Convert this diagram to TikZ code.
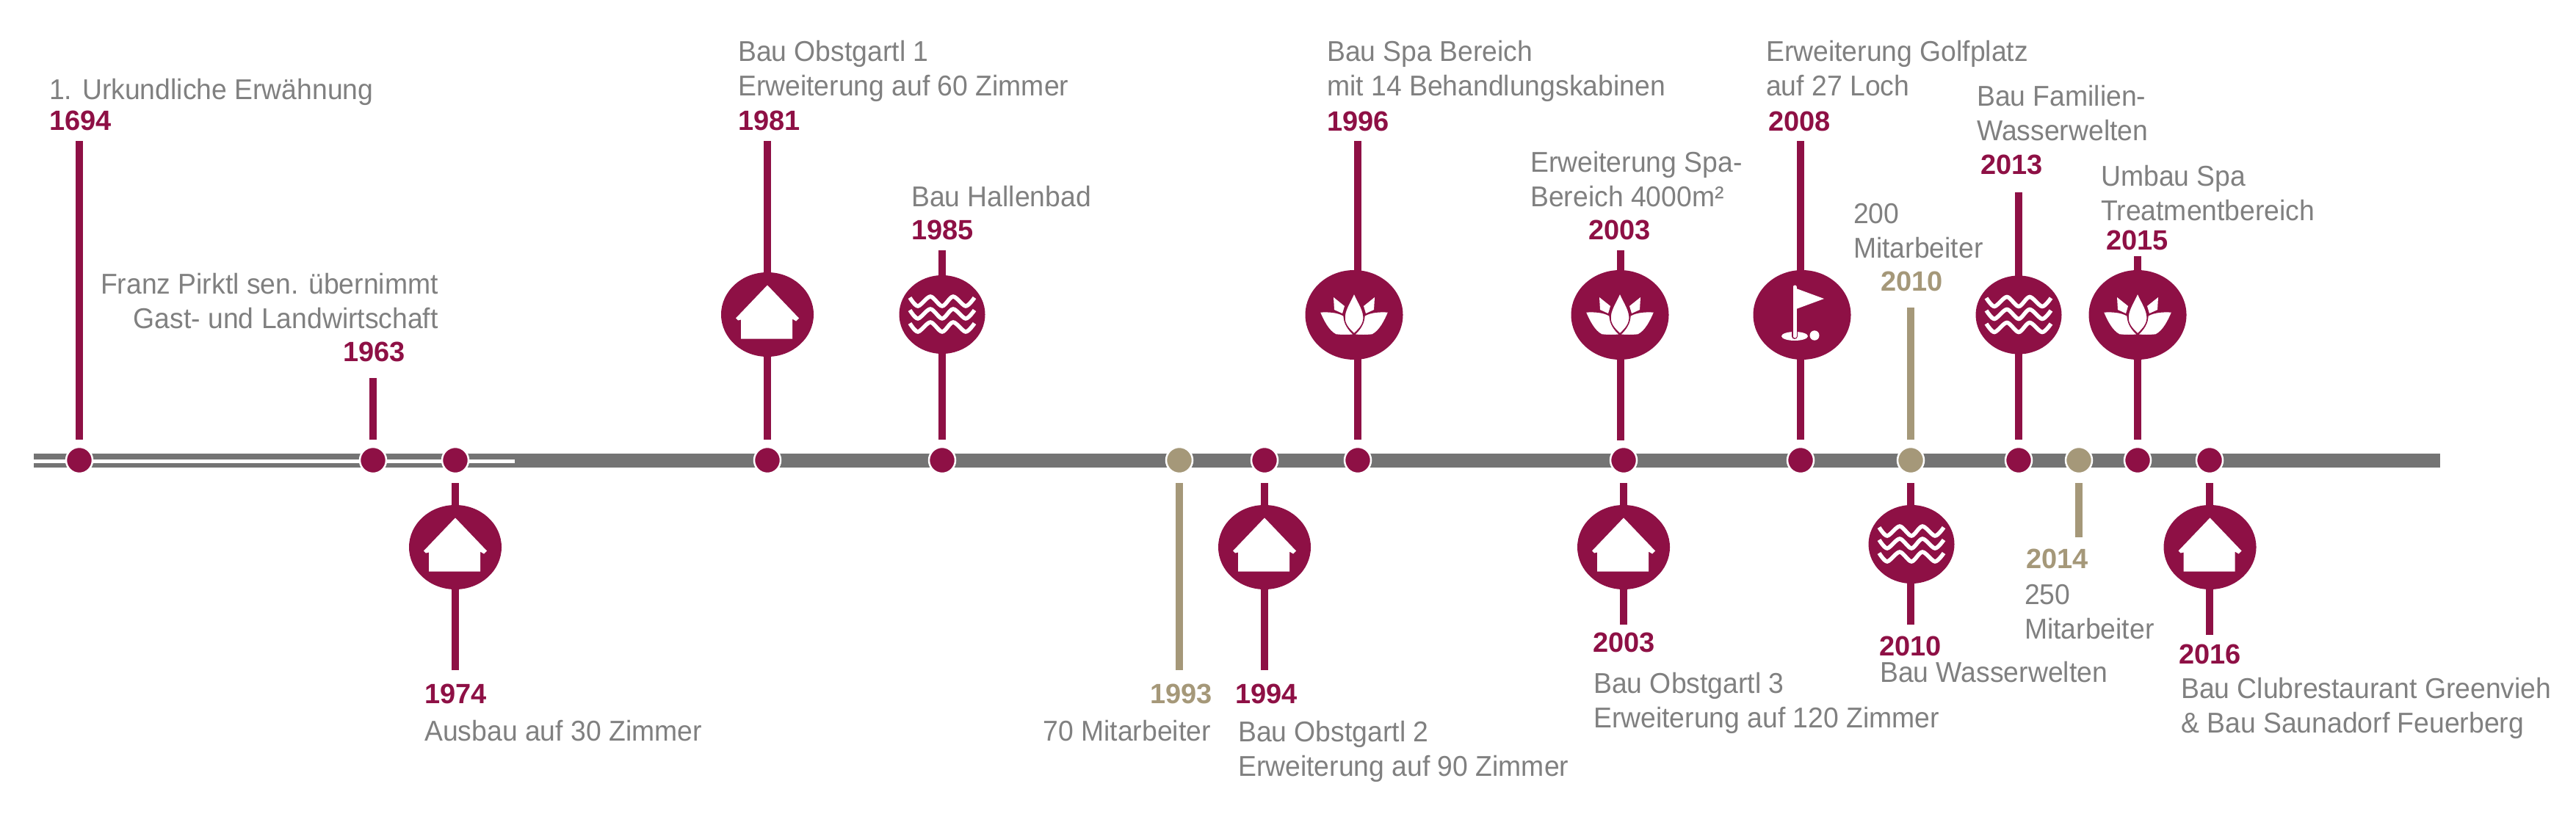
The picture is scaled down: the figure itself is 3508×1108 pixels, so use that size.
\documentclass[tikz,border=0pt]{standalone}
\usepackage{fontspec}
\setmainfont{Liberation Sans}[UprightFeatures={FakeStretch=0.957}]
\usepackage{xcolor}
\usetikzlibrary{shapes.geometric}
\definecolor{bargray}{HTML}{747474}
\definecolor{txtgray}{HTML}{808080}
\definecolor{wine}{HTML}{8E1045}
\definecolor{sand}{HTML}{A59879}
\tikzstyle{bar}=[line width=19pt,draw=bargray]
\tikzstyle{stripe}=[line width=5pt,draw=white]
\tikzstyle{dot}=[circle,fill=wine,draw=white,line width=2.5pt,inner sep=0,minimum size=36pt]
\tikzstyle{stem}=[line width=10pt,draw=wine,shorten >=9pt]
\tikzstyle{stemdn}=[stem,shorten >=12pt]
\tikzstyle{badge}=[ellipse,fill=wine,inner sep=0,outer sep=0]
\tikzstyle{big}=[badge,minimum width=133pt,minimum height=122pt]
\tikzstyle{mid}=[badge,minimum width=126pt,minimum height=115pt]
\tikzstyle{small}=[badge,minimum width=117pt,minimum height=107pt]
\tikzstyle{yr}=[anchor=base west,inner sep=0,text=wine,font=\fontsize{38}{46}\selectfont\bfseries]
\tikzstyle{lbl}=[anchor=base west,inner sep=0,text=txtgray,align=left,font=\fontsize{39}{47}\selectfont]
\tikzstyle{petal}=[fill=white,draw=wine,line width=1.5pt]
\tikzset{
  house/.pic={
    \fill[white] (0,-40) -- (43,5) -- (39,9) -- (34,6) -- (34,33) -- (-36,33) -- (-36,7) -- (-40,8) -- (-43,5) -- cycle;
  },
  waves/.pic={
    \draw[white,line width=5.5pt] plot[smooth] coordinates {(-44,-23) (-33,-11.5) (-16,-24.5) (0,-11.5) (15,-24.5) (32,-11.5) (44,-23)};
    \draw[white,line width=5.5pt] plot[smooth] coordinates {(-44,-6) (-33,5.5) (-16,-7.5) (0,5.5) (15,-7.5) (32,5.5) (44,-6)};
    \draw[white,line width=5.5pt] plot[smooth] coordinates {(-44,12) (-33,23.5) (-16,10.5) (0,23.5) (15,10.5) (32,23.5) (44,12)};
  },
  lotus/.pic={
    \fill[white] (-28,-24) -- (-13,-12) -- (-16,-2) -- (-27,-7) -- cycle;
    \fill[white] (28,-24) -- (13,-12) -- (16,-2) -- (27,-7) -- cycle;
    \path[petal] (-47,-4) .. controls (-35,-5) and (-22,-4) .. (-14,1) .. controls (-13,12) and (-8,20) .. (0,27) .. controls (-8,28) and (-16,28) .. (-25,27) .. controls (-35,22) and (-42,8) .. (-47,-4) -- cycle;
    \path[petal] (47,-4) .. controls (35,-5) and (22,-4) .. (14,1) .. controls (13,12) and (8,20) .. (0,27) .. controls (8,28) and (16,28) .. (25,27) .. controls (35,22) and (42,8) .. (47,-4) -- cycle;
    \path[petal] (0,-30) .. controls (-6,-16) and (-14,-6) .. (-13,6) .. controls (-12,15) and (-5,21) .. (0,26) .. controls (5,21) and (12,15) .. (13,6) .. controls (14,-6) and (6,-16) .. (0,-30) -- cycle;
  },
  flag/.pic={
    \fill[white] (-10,29) ellipse (18 and 6);
    \fill[white] (17,28) ellipse (6.5 and 6.7);
    \draw[wine,line width=8pt,line cap=round] (-10,10) -- (-10,29);
    \draw[white,line width=5pt,line cap=round] (-10,-38) -- (-10,29);
    \fill[white] (-8,-36) -- (30,-22) -- (-8,-8) -- cycle;
  },
}

\begin{document}
\begin{tikzpicture}[x=1pt,y=-1pt]
\useasboundingbox (0,0) rectangle (3508,1108);

% timeline
\coordinate (l0) at (46,627.5);
\coordinate (l1) at (3323,627.5);
\coordinate (l2) at (46,628);
\coordinate (l3) at (701,628);
\draw[bar] (l0) to (l1);
\draw[stripe] (l2) to (l3);

\node[dot] (d1694) at (108,627) {};
\node[dot] (d1963) at (508,627) {};
\node[dot] (d1974) at (620,627) {};
\node[dot] (d1981) at (1045,627) {};
\node[dot] (d1985) at (1283,627) {};
\node[dot,fill=sand] (d1993) at (1606,627) {};
\node[dot] (d1994) at (1722,627) {};
\node[dot] (d1996) at (1849,627) {};
\node[dot] (d2003) at (2211,627) {};
\node[dot] (d2008) at (2452,627) {};
\node[dot,fill=sand] (d2010) at (2602,627) {};
\node[dot] (d2013) at (2749,627) {};
\node[dot,fill=sand] (d2014) at (2831,627) {};
\node[dot] (d2015) at (2911,627) {};
\node[dot] (d2016) at (3009,627) {};

% stem ends
\coordinate (e1694) at (108,192);
\coordinate (e1963) at (508,515);
\coordinate (e1974) at (620,913);
\coordinate (e1981) at (1045,192);
\coordinate (e1985) at (1283,341);
\coordinate (e1993) at (1606,913);
\coordinate (e1994) at (1722,913);
\coordinate (e1996) at (1849,192);
\coordinate (e2003a) at (2207,341);
\coordinate (e2003b) at (2211,851);
\coordinate (e2008) at (2452,192);
\coordinate (e2010a) at (2602,419);
\coordinate (e2010b) at (2602,851);
\coordinate (e2013) at (2749,262);
\coordinate (e2014) at (2831,732);
\coordinate (e2015) at (2911,349);
\coordinate (e2016) at (3009,865);

\draw[stem] (e1694) to (d1694);
\draw[stem] (e1963) to (d1963);
\draw[stemdn] (e1974) to (d1974);
\draw[stem] (e1981) to (d1981);
\draw[stem] (e1985) to (d1985);
\draw[stemdn,draw=sand] (e1993) to (d1993);
\draw[stemdn] (e1994) to (d1994);
\draw[stem] (e1996) to (d1996);
\draw[stem,shorten >=27pt] (e2003a) to (e2003a |- d2003);
\draw[stemdn] (e2003b) to (d2003);
\draw[stem] (e2008) to (d2008);
\draw[stem,draw=sand] (e2010a) to (d2010);
\draw[stemdn] (e2010b) to (d2010);
\draw[stem] (e2013) to (d2013);
\draw[stemdn,draw=sand] (e2014) to (d2014);
\draw[stem] (e2015) to (d2015);
\draw[stemdn] (e2016) to (d2016);

% badges
\node[mid] (s1974) at (620,745.5) {};
\node[mid] (s1981) at (1045,428.5) {};
\node[small] (s1985) at (1283,428.5) {};
\node[mid] (s1994) at (1722,745.5) {};
\node[big] (s1996) at (1844,429) {};
\node[big] (s2003a) at (2206,429) {};
\node[mid] (s2003b) at (2211,745.5) {};
\node[big] (s2008) at (2454,429) {};
\node[small] (s2010) at (2603,741.5) {};
\node[small] (s2013) at (2749,429) {};
\node[big] (s2015) at (2911,429) {};
\node[mid] (s2016) at (3009.5,745.5) {};

\pic at (s1974) {house};
\pic at (s1981) {house};
\pic at (s1985) {waves};
\pic at (s1994) {house};
\pic at (s1996) {lotus};
\pic at (s2003a) {lotus};
\pic at (s2003b) {house};
\pic at (s2008) {flag};
\pic at (s2010) {waves};
\pic at (s2013) {waves};
\pic at (s2015) {lotus};
\pic at (s2016) {house};

% years
\node[yr] (y1694) at (67,177.5) {1694};
\node[yr] (y1963) at (467,492) {1963};
\node[yr] (y1974) at (578,958) {1974};
\node[yr] (y1981) at (1005,177.5) {1981};
\node[yr] (y1985) at (1241,326) {1985};
\node[yr,text=sand] (y1993) at (1566,958) {1993};
\node[yr] (y1994) at (1682,958) {1994};
\node[yr] (y1996) at (1807,178) {1996};
\node[yr] (y2003a) at (2163,326) {2003};
\node[yr] (y2003b) at (2169,888) {2003};
\node[yr] (y2008) at (2408,178) {2008};
\node[yr,text=sand] (y2010a) at (2561,396) {2010};
\node[yr] (y2010b) at (2559,893) {2010};
\node[yr] (y2013) at (2697,237) {2013};
\node[yr,text=sand] (y2014) at (2759,774) {2014};
\node[yr] (y2015) at (2868,340) {2015};
\node[yr] (y2016) at (2967,904) {2016};

% labels
\node[lbl] (t1694) at (67,135) {1. Urkundliche Erwähnung};
\node[lbl,anchor=base east,align=right] (t1963) at (597,447) {Franz Pirktl sen. übernimmt\\Gast- und Landwirtschaft};
\node[lbl] (t1974) at (578,1009) {Ausbau auf 30 Zimmer};
\node[lbl] (t1981) at (1005,130) {Bau Obstgartl 1\\Erweiterung auf 60 Zimmer};
\node[lbl] (t1985) at (1241,281) {Bau Hallenbad};
\node[lbl,anchor=base east] (t1993) at (1649,1009) {70 Mitarbeiter};
\node[lbl] (t1994) at (1686,1057) {Bau Obstgartl 2\\Erweiterung auf 90 Zimmer};
\node[lbl] (t1996) at (1807,130) {Bau Spa Bereich\\mit 14 Behandlungskabinen};
\node[lbl] (t2003a) at (2084,281) {Erweiterung Spa-\\Bereich 4000m²};
\node[lbl] (t2003b) at (2170,991) {Bau Obstgartl 3\\Erweiterung auf 120 Zimmer};
\node[lbl] (t2008) at (2405,130) {Erweiterung Golfplatz\\auf 27 Loch};
\node[lbl] (t2010a) at (2524,351) {200\\Mitarbeiter};
\node[lbl] (t2010b) at (2560,929) {Bau Wasserwelten};
\node[lbl] (t2013) at (2692,191) {Bau Familien-\\Wasserwelten};
\node[lbl] (t2014) at (2757,870) {250\\Mitarbeiter};
\node[lbl] (t2015) at (2861,300) {Umbau Spa\\Treatmentbereich};
\node[lbl] (t2016) at (2970,998) {Bau Clubrestaurant Greenvieh\\\& Bau Saunadorf Feuerberg};

\end{tikzpicture}
\end{document}
